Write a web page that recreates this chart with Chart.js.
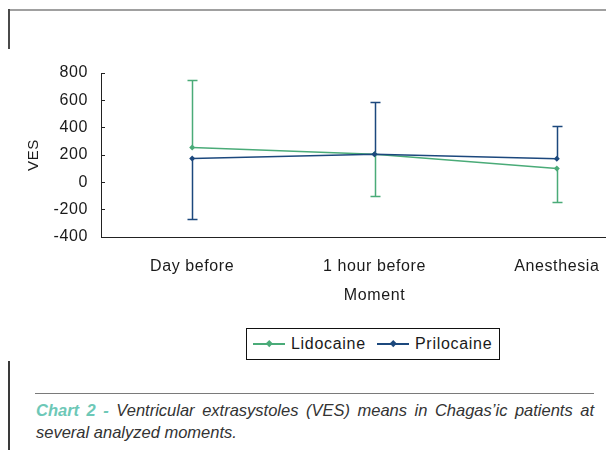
<!DOCTYPE html>
<html><head><meta charset="utf-8">
<script src="https://cdn.jsdelivr.net/npm/chart.js@4/dist/chart.umd.min.js"></script>
<style>
html,body{margin:0;padding:0;width:606px;height:450px;overflow:hidden;background:#fff;}
#wrap{position:absolute;left:0;top:0;width:660px;height:320px;}
.ln{position:absolute;}
.leg{position:absolute;font-family:"Liberation Sans",Arial,sans-serif;font-size:16px;letter-spacing:0.7px;color:#1a1a1a;line-height:18px;}
.cap{position:absolute;left:36px;width:558px;font-family:"Liberation Sans",Arial,sans-serif;font-style:italic;font-size:16.5px;line-height:22px;color:#333;}
.cap b{color:#6dc8b7;}
</style></head>
<body>
<div class="ln" style="left:8px;top:9px;width:598px;height:2px;background:#a0a0a0"></div>
<div class="ln" style="left:8px;top:9px;width:2px;height:40px;background:#4a4a4a"></div>
<div id="wrap"><canvas id="c" width="660" height="320"></canvas></div>
<div class="ln" style="left:246px;top:328px;width:252px;height:30px;border:1px solid #111"></div>
<div class="ln" id="lg1" style="left:253px;top:343px;width:32px;height:1.5px"></div>
<div class="ln" id="lm1" style="left:266.5px;top:341px;width:4.5px;height:4.5px;transform:rotate(45deg)"></div>
<div class="leg" id="lt1" style="left:291px;top:335px"></div>
<div class="ln" id="lg2" style="left:377px;top:343px;width:32px;height:1.5px"></div>
<div class="ln" id="lm2" style="left:390.5px;top:341px;width:4.5px;height:4.5px;transform:rotate(45deg)"></div>
<div class="leg" id="lt2" style="left:415px;top:335px"></div>
<div class="ln" style="left:8px;top:361px;width:2px;height:89px;background:#3a3a3a"></div>
<div class="ln" style="left:35px;top:393px;width:559px;height:1px;background:#7a7a7a"></div>
<div class="cap" style="top:399px;text-align:justify;text-align-last:justify"><b>Chart 2 -</b> Ventricular extrasystoles (VES) means in Chagas’ic patients at</div>
<div class="cap" style="top:421px">several analyzed moments.</div>
<script>
const categories = ['Day before', '1 hour before', 'Anesthesia'];
const seriesNames = ['Lidocaine', 'Prilocaine'];
const lidocaineMeans = [255, 205, 101];
const lidocaineErrUp = [495, 0, 0];
const lidocaineErrDown = [0, 306, 246];
const prilocaineMeans = [174, 206, 172];
const prilocaineErrUp = [0, 385, 243];
const prilocaineErrDown = [441, 0, 0];
const yMin = -400, yMax = 800, yStep = 200;
const xTitle = 'Moment';
const yTitle = 'VES';

const GREEN = '#4aab78', BLUE = '#1c487d';
document.getElementById('lg1').style.background = GREEN;
document.getElementById('lm1').style.background = GREEN;
document.getElementById('lg2').style.background = BLUE;
document.getElementById('lm2').style.background = BLUE;
document.getElementById('lt1').textContent = seriesNames[0];
document.getElementById('lt2').textContent = seriesNames[1];

const errors = [
  {up: lidocaineErrUp, down: lidocaineErrDown},
  {up: prilocaineErrUp, down: prilocaineErrDown}
];

const errorBarPlugin = {
  id: 'errorBars',
  beforeDatasetsDraw(chart) {
    const ctx = chart.ctx, y = chart.scales.y, x = chart.scales.x;
    chart.data.datasets.forEach((ds, di) => {
      const e = errors[di];
      ctx.save();
      ctx.strokeStyle = ds.borderColor;
      ctx.lineWidth = 1.5;
      ds.data.forEach((v, i) => {
        const px = Math.round(x.getPixelForValue(i)) + 0.5;
        const segs = [];
        if (e.up[i] > 0) segs.push(v + e.up[i]);
        if (e.down[i] > 0) segs.push(v - e.down[i]);
        segs.forEach(end => {
          const p0 = y.getPixelForValue(v), p1 = Math.round(y.getPixelForValue(end)) + 0.5;
          ctx.beginPath();
          ctx.moveTo(px, p0); ctx.lineTo(px, p1);
          ctx.moveTo(px - 5, p1); ctx.lineTo(px + 5, p1);
          ctx.stroke();
        });
      });
      ctx.restore();
    });
  }
};

const spacingPlugin = {
  id: 'spacing',
  beforeDraw(chart) { chart.ctx.letterSpacing = '0.6px'; }
};

const font = {family: '"Liberation Sans", Arial, sans-serif', size: 16};

new Chart(document.getElementById('c'), {
  type: 'line',
  data: {
    labels: categories,
    datasets: [
      {label: seriesNames[0], data: lidocaineMeans, borderColor: GREEN, backgroundColor: GREEN,
       borderWidth: 1.5, pointStyle: 'rectRot', pointRadius: 3, pointBorderWidth: 0, tension: 0, order: 1},
      {label: seriesNames[1], data: prilocaineMeans, borderColor: BLUE, backgroundColor: BLUE,
       borderWidth: 1.5, pointStyle: 'rectRot', pointRadius: 3, pointBorderWidth: 0, tension: 0, order: 0}
    ]
  },
  options: {
    responsive: false,
    animation: false,
    devicePixelRatio: 1,
    layout: {padding: {left: 20, top: 73, right: 12, bottom: 0}},
    plugins: {legend: {display: false}, tooltip: {enabled: false}},
    scales: {
      x: {
        type: 'category',
        offset: true,
        grid: {display: false},
        border: {display: true, color: '#222', width: 1},
        ticks: {font: font, color: '#1a1a1a', padding: 12, maxRotation: 0, autoSkip: false},
        title: {display: true, text: xTitle, font: font, color: '#1a1a1a', padding: {top: 0, bottom: 15}},
        afterFit(s) { s.height = 83; }
      },
      y: {
        min: yMin, max: yMax,
        ticks: {stepSize: yStep, font: font, color: '#1a1a1a', padding: 17},
        grid: {drawOnChartArea: false, drawTicks: true, tickLength: -4, tickColor: '#222'},
        border: {display: true, color: '#222', width: 1},
        title: {display: true, text: yTitle, font: {family: font.family, size: 15}, color: '#1a1a1a', padding: {top: 5, bottom: 0}},
        afterFit(s) { s.width = 81; }
      }
    }
  },
  plugins: [errorBarPlugin, spacingPlugin]
});
</script>
</body></html>
